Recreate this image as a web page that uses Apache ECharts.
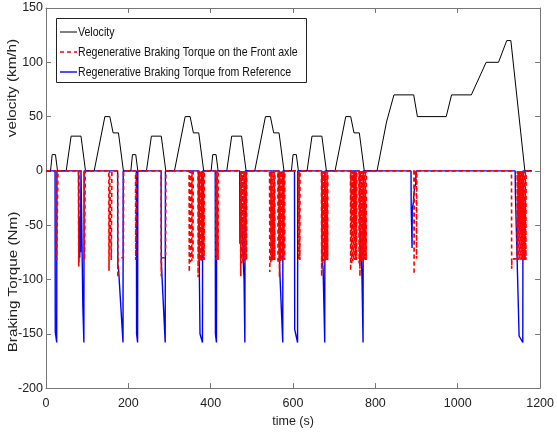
<!DOCTYPE html>
<html>
<head>
<meta charset="utf-8">
<script src="https://cdn.jsdelivr.net/npm/echarts@6/dist/echarts.min.js"></script>
<style>html,body{margin:0;padding:0;background:#fff;}#c{width:557px;height:433px;}</style>
</head>
<body>
<div id="c"></div>
<script>
// ---- data ----
const xTicks = [0, 200, 400, 600, 800, 1000, 1200];
const yTicks = [-200, -150, -100, -50, 0, 50, 100, 150];
const seriesNames = ['Velocity', 'Regenerative Braking Torque on the Front axle', 'Regenerative Braking Torque from Reference'];

// velocity [time s, km/h]
const velocityPts = [
  [0,0],[11,0],[15,15],[23,15],[28,0],[49,0],[61,32],[85,32],[96,0],[117,0],[143,50],[155,50],[163,35],[176,35],[188,0],
  [206,0],[210,15],[218,15],[223,0],[244,0],[256,32],[280,32],[291,0],[312,0],[338,50],[350,50],[358,35],[371,35],[383,0],
  [401,0],[405,15],[413,15],[418,0],[439,0],[451,32],[475,32],[486,0],[507,0],[533,50],[545,50],[553,35],[566,35],[578,0],
  [596,0],[600,15],[608,15],[613,0],[634,0],[646,32],[670,32],[681,0],[702,0],[728,50],[740,50],[748,35],[761,35],[773,0],
  [804,0],[827,45],[845,70],[893,70],[902,50],[972,50],[985,70],[1033,70],[1069,100],[1099,100],[1119,120],[1129,120],[1163,0],[1180,0]
];

// regenerative braking torque from reference [time s, Nm]
const referencePts = [
  [0,0],
  [22,0],[22.5,-148],[26,-158],[26.5,0],
  [79,0],[79.5,-84],[80.5,-84],[81,-42],[82,-80],[83,-45],[84,-75],[84.5,-30],[85,0],
  [89,0],[89.5,-125],[92,-158],[92.5,0],
  [174,0],[174.5,-87],[176,-89],[187,-158],[187.5,0],
  [219.5,0],[220,-150],[222.5,-158],[223,0],
  [279.5,0],[280,-84],[289.5,-158],[290,0],
  [372,0],[372.5,-95],[374,-150],[380,-158],[380.5,0],
  [411,0],[411.5,-150],[414,-158],[414.5,0],
  [470.5,0],[471,-67],[472,-38],[475,-45],[481,-100],[483,-158],[483.5,0],
  [567,0],[567.5,-90],[575,-158],[575.5,0],
  [603.5,0],[604,-146],[611,-158],[611.5,0],
  [670,0],[670.5,-80],[673,-90],[677,-158],[677.5,0],
  [761.5,0],[762,-87],[763,-87],[764,-55],[767,-55],[767.5,-100],[770,-158],[770.5,0],
  [886.5,0],[887,-35],[888,-50],[889,-71],[889.5,-35],[892,-30],[895,-15],[898,-12],[898.5,0],
  [1139.5,0],[1140,-20],[1149,-152],[1158,-158],[1158.5,0],[1180,0]
];

// regenerative braking torque on the front axle [time s, Nm]
const frontAxlePts = [
  [0,0],
  [25.5,0],[26,-82],[28.5,-82],[29,0],
  [79,0],[79.5,-88],[80,-88],[80.5,0],[93,0],[93.5,-82],[95,-82],[95.5,0],
  [152.5,0],[153,-92],[154,-92],[154.5,0],[158,0],[158.5,-82],[159.5,-82],[160,0],
  [174,0],[174.5,-98],[175,-80],[188,-80],[188.5,0],
  [217.5,0],[218,-82],[219,-82],[219.5,0],
  [279.5,0],[280,-97],[280.5,-80],[290.5,-80],[291,0],
  [347.5,0],[348,-93],[348.5,0],[350.5,0],[351,-84],[351.5,0],[353.5,0],[354,-83],[354.5,0],[356.5,0],[357,-82],[357.5,0],
  [369,0],[369.5,-98],[370,0],[371.5,0],[372,-85],[372.5,0],[374,0],[374.5,-83],[375,0],[376.5,0],[377,-83],[377.5,0],[379,0],[379.5,-82],[380,0],[381.5,0],[382,-82],[382.5,0],[383.5,0],[384,-82],[384.5,0],
  [412.5,0],[413,-82],[413.5,0],[415,0],[415.5,-82],[416,0],[417.5,0],[418,-82],[418.5,0],
  [472.5,0],[473,-97],[473.5,0],[475,0],[475.5,-85],[476,0],[477.5,0],[478,-83],[478.5,0],[480,0],[480.5,-83],[481,0],[482.5,0],[483,-83],[483.5,0],[485,0],[485.5,-82],[486,0],[486.5,0],[487,-82],[487.5,0],
  [543,0],[543.5,-93],[544,0],[545.5,0],[546,-85],[546.5,0],[548,0],[548.5,-83],[549,0],[550.5,0],[551,-82],[551.5,0],[553,0],[553.5,-82],[554,0],[555,0],[555.5,-82],[556,0],
  [563,0],[563.5,-85],[564,0],[565.5,0],[566,-83],[566.5,0],[567,-98],[567.5,0],[569.5,0],[570,-83],[570.5,0],[572,0],[572.5,-83],[573,0],[574.5,0],[575,-82],[575.5,0],[577,0],[577.5,-82],[578,0],[579,0],[579.5,-82],[580,0],
  [613.5,0],[614,-82],[614.5,0],[616,0],[616.5,-82],[617,0],
  [669,0],[669.5,-97],[670,0],[671.5,0],[672,-85],[672.5,0],[674,0],[674.5,-83],[675,0],[676.5,0],[677,-83],[677.5,0],[679,0],[679.5,-82],[680,0],[681.5,0],[682,-82],[682.5,0],[683.5,0],[684,-82],[684.5,0],
  [739.5,0],[740,-92],[740.5,0],[742,0],[742.5,-85],[743,0],[744.5,0],[745,-83],[745.5,0],[747,0],[747.5,-82],[748,0],[749.5,0],[750,-82],[750.5,0],[752,0],[752.5,-82],[753,0],[753.5,0],[754,-82],[754.5,0],
  [760,0],[760.5,-85],[761,0],[762,0],[762.5,-97],[763,0],[764.5,0],[765,-83],[765.5,0],[767,0],[767.5,-83],[768,0],[769.5,0],[770,-83],[770.5,0],[772,0],[772.5,-82],[773,0],[774.5,0],[775,-82],[775.5,0],[777,0],[777.5,-82],[778,0],
  [893.5,0],[894,-95],[894.5,0],[899.5,0],[900,-81],[900.5,0],
  [1130.5,0],[1131,-90],[1131.5,-81],[1144,-81],[1144.5,0],[1145.5,0],[1146,-82],[1146.5,0],[1148,0],[1148.5,-82],[1149,0],[1150.5,0],[1151,-82],[1151.5,0],[1153,0],[1153.5,-82],[1154,0],[1155.5,0],[1156,-82],[1156.5,0],[1158,0],[1158.5,-82],[1159,0],[1160.5,0],[1161,-82],[1161.5,0],[1163,0],[1163.5,-82],[1164,0],[1165,0],[1165.5,-82],[1166,0],[1180,0]
];

// ---- chart ----
const REG = "'Liberation Sans', Arial, sans-serif";
const axisCol = '#777';
const chart = echarts.init(document.getElementById('c'), null, {renderer: 'canvas'});
const xMin = xTicks[0], xMax = xTicks[xTicks.length - 1], xInt = xTicks[1] - xTicks[0];
const yMin = yTicks[0], yMax = yTicks[yTicks.length - 1], yInt = yTicks[1] - yTicks[0];
const baseAxis = {
  axisLine: {show: true, onZero: false, lineStyle: {color: axisCol, width: 1}},
  axisTick: {show: true, inside: true, length: 5, lineStyle: {color: axisCol}},
  splitLine: {show: false}
};
const labelStyle = {fontFamily: REG, fontSize: 12.5, color: '#222', formatter: v => String(v)};

// legend drawn as graphic (box, line samples, texts)
const legendY = [32, 52, 72];
const legendStroke = [
  {stroke: '#000', lineWidth: 1},
  {stroke: '#ff0000', lineWidth: 1.6, lineDash: [4, 3]},
  {stroke: '#0000ff', lineWidth: 1.4}
];
const legendGraphics = [
  {type: 'rect', shape: {x: 56.5, y: 18.5, width: 250, height: 64}, style: {fill: '#fff', stroke: '#222', lineWidth: 1}, z: 100}
];
seriesNames.forEach((name, i) => {
  legendGraphics.push({type: 'line', shape: {x1: 60, y1: legendY[i], x2: 77, y2: legendY[i]}, style: legendStroke[i], z: 101});
  legendGraphics.push({type: 'text', x: 78, y: legendY[i], scaleY: 1.28,
    style: {text: name, font: '10.6px ' + REG, fill: '#111', align: 'left', verticalAlign: 'middle'}, z: 101});
});

chart.setOption({
  animation: false,
  backgroundColor: '#fff',
  grid: {left: 46, right: 13, top: 8, bottom: 42},
  xAxis: [
    Object.assign({}, baseAxis, {
      type: 'value', position: 'bottom', min: xMin, max: xMax, interval: xInt,
      axisLabel: Object.assign({margin: 9}, labelStyle),
      name: 'time (s)', nameLocation: 'middle', nameGap: 20,
      nameTextStyle: {fontFamily: REG, fontSize: 12.5, color: '#222'}
    }),
    Object.assign({}, baseAxis, {
      type: 'value', position: 'top', min: xMin, max: xMax, interval: xInt,
      axisLabel: {show: false}
    })
  ],
  yAxis: [
    Object.assign({}, baseAxis, {
      type: 'value', position: 'left', min: yMin, max: yMax, interval: yInt,
      axisLabel: Object.assign({margin: 3}, labelStyle)
    }),
    Object.assign({}, baseAxis, {
      type: 'value', position: 'right', min: yMin, max: yMax, interval: yInt,
      axisLabel: {show: false}
    })
  ],
  graphic: legendGraphics.concat([
    {type: 'text', x: 13, y: 88, rotation: Math.PI / 2, scaleX: 1.22,
     style: {text: 'velocity (km/h)', font: '12.5px ' + REG, fill: '#222', align: 'center', verticalAlign: 'middle'}},
    {type: 'text', x: 14, y: 282, rotation: Math.PI / 2, scaleX: 1.22,
     style: {text: 'Braking Torque (Nm)', font: '12.5px ' + REG, fill: '#222', align: 'center', verticalAlign: 'middle'}}
  ]),
  series: [
    {name: seriesNames[0], type: 'line', data: velocityPts, symbol: 'none', z: 2,
     lineStyle: {color: '#000', width: 1}},
    {name: seriesNames[2], type: 'line', data: referencePts, symbol: 'none', z: 3,
     lineStyle: {color: '#0000ff', width: 1.4}},
    {name: seriesNames[1], type: 'line', data: frontAxlePts, symbol: 'none', z: 4,
     lineStyle: {color: '#ff0000', width: 1.6, type: [4, 3]}}
  ]
});
</script>
</body>
</html>
